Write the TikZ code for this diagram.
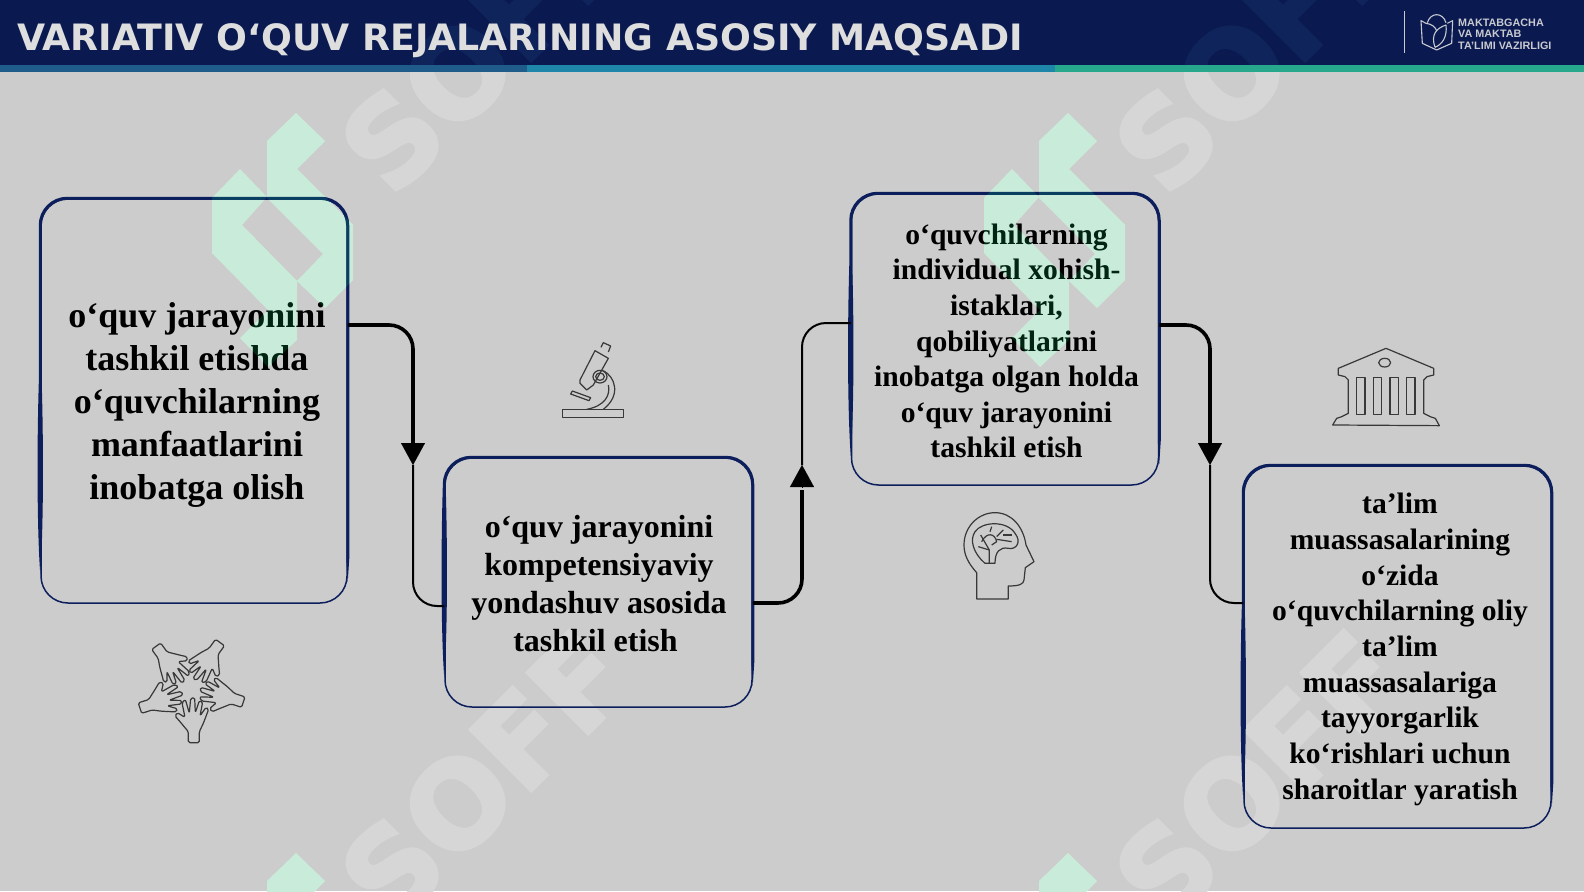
\documentclass[tikz,border=0pt]{standalone}
\usepackage{fontspec}
\setmainfont{Liberation Serif}
\newfontfamily\headfont{DejaVu Sans}
\newfontfamily\markfont[FakeBold=3]{DejaVu Sans Bold}
\newfontfamily\minfont{Liberation Sans}
\usetikzlibrary{arrows.meta, calc}

\definecolor{pagegrey}{HTML}{CCCCCC}
\definecolor{markgrey}{HTML}{D6D6D6}
\definecolor{marknavy}{HTML}{10245C}
\definecolor{headnavy}{HTML}{0A1A50}
\definecolor{stripa}{HTML}{1F5C8C}
\definecolor{stripb}{HTML}{1E86A8}
\definecolor{stripc}{HTML}{27A88C}
\definecolor{boxnavy}{HTML}{0C1E5C}
\definecolor{iconline}{HTML}{383838}
\definecolor{headtext}{HTML}{DEDEDE}
\definecolor{mintbase}{HTML}{ECE9E9}
\definecolor{minttint}{HTML}{00FF80}

\tikzset{
  stepbox/.style = {draw=boxnavy, line width=1.5pt, rounded corners=27pt, inner sep=0pt},
  steptext/.style = {align=center, font=\bfseries, text=black, inner sep=0pt},
  flowthick/.style = {line width=3.6pt, rounded corners=24pt},
  flowthin/.style = {line width=2pt, rounded corners=24pt},
  flowtip/.style = {-{Triangle[width=24pt,length=22pt]}},
  iconpath/.style = {draw=iconline, line width=1.2pt, line join=round},
  minpath/.style = {draw=headtext!90!headnavy, line width=1.1pt, line join=round},
}

% calligraphic part of a box outline
\newcommand{\boxedge}[1]{
  \draw[boxnavy, line width=3pt, rounded corners=27pt]
    ($(#1.south west)+(0,-220)$) |- (#1.north east) -- ($(#1.south east)+(0,-45)$);
  \fill[boxnavy] ($(#1.south west)+(-1.5,-220)$) -- ($(#1.south west)+(1.5,-220)$)
    .. controls ($(#1.south west)+(3.5,-150)$) and ($(#1.south west)+(3,-70)$) .. ($(#1.south west)+(0,-30)$)
    .. controls ($(#1.south west)+(-3,-70)$) and ($(#1.south west)+(-3.5,-150)$) .. cycle;
  \fill[boxnavy] ($(#1.south east)+(-1.5,-45)$) -- ($(#1.south east)+(1.5,-45)$) -- ($(#1.south east)+(0,-22)$) -- cycle;
}
\newcommand{\minshape}{
  (296,113) -- (325,141) -- (297,169) -- (353,225) -- (353,280) -- (325,308) -- (297,281)
  -- (323,254) -- (267,198) -- (267,141) -- cycle
  (240,169) -- (267,197) -- (242,225) -- (297,281) -- (297,340) -- (268,367) -- (240,338)
  -- (268,310) -- (212,253) -- (212,198) -- cycle
}
\newcommand{\softmark}[1]{
  \foreach \dx/\dy in {0/0, 774/0, 0/730, 774/730} {
    \node[rotate=45, text=#1, font=\markfont\fontsize{118}{118}\selectfont, inner sep=0pt, anchor=west]
      at ($(362,169)+(\dx,\dy)$) {SOFF};
  }
}

\begin{document}
\begin{tikzpicture}[x=1pt, y=-1pt]
\useasboundingbox (0,0) rectangle (1584,891);
\begin{scope}
\clip (0,0) rectangle (1584,891);
\fill[pagegrey] (0,0) rectangle (1584,891);

% watermark
\softmark{markgrey}
\foreach \dx/\dy in {0/0, 772/0, 0/740, 772/740} {
  \fill[mintbase, shift={(\dx,\dy)}] \minshape;
}

% header
\fill[headnavy] (0,0) rectangle (1584,66);
\fill[stripa] (0,65) rectangle (527,72);
\fill[stripb] (527,65) rectangle (1055,72);
\fill[stripc] (1055,65) rectangle (1584,72);
\begin{scope}
\clip (0,0) rectangle (1584,65);
\softmark{marknavy}
\end{scope}

\node[anchor=west, inner sep=0pt, text=headtext, font=\headfont\bfseries\fontsize{36.3}{36}\selectfont] (title) at (17,41) {VARIATIV O‘QUV REJALARINING ASOSIY MAQSADI};

% ministry mark
\coordinate (r1) at (1404,11);
\coordinate (r2) at (1404,53);
\draw[headtext!90!headnavy, line width=1pt] (r1) -- (r2);
\begin{scope}[shift={(1340,0)}, x=.3333pt, y=-.3333pt]
\draw[minpath] (258,70) -- (243,62) -- (247,130) -- (290,150) -- (335,130) -- (338,62) -- (322,70);
\draw[minpath] (262,68) .. controls (272,36) and (308,36) .. (318,68);
\draw[minpath] (258,70) .. controls (275,72) and (285,80) .. (290,92);
\draw[minpath] (285,142) .. controls (272,105) and (288,85) .. (318,75) .. controls (322,110) and (308,132) .. (285,142);
\end{scope}
\node[anchor=north west, inner sep=0pt, align=left, text=headtext!90!headnavy, font=\minfont\bfseries\fontsize{10.8}{11.6}\selectfont] (mintext) at (1458,18.5) {MAKTABGACHA\\VA MAKTAB\\TA’LIMI VAZIRLIGI};

% boxes
\node[stepbox, minimum width=306pt, minimum height=404pt] (b1) at (194,401) {};
\node[stepbox, minimum width=307pt, minimum height=249pt] (b2) at (598.5,582.5) {};
\node[stepbox, minimum width=307pt, minimum height=291pt] (b3) at (1005,339.5) {};
\node[stepbox, minimum width=307pt, minimum height=362pt] (b4) at (1397.5,647) {};
\foreach \b in {b1,b2,b3,b4} {
  \boxedge{\b}
}

\node[steptext, font=\bfseries\fontsize{36}{43}\selectfont] (t1) at (197,405) {o‘quv jarayonini\\tashkil etishda\\o‘quvchilarning\\manfaatlarini\\inobatga olish};
\node[steptext, font=\bfseries\fontsize{32}{38}\selectfont] (t2) at (599,584) {o‘quv jarayonini\\kompetensiyaviy\\yondashuv asosida\\tashkil etish\hspace*{7pt}};
\node[steptext, font=\bfseries\fontsize{29.6}{35.6}\selectfont] (t3) at (1006.5,341) {o‘quvchilarning\\individual xohish-\\istaklari,\\qobiliyatlarini\\inobatga olgan holda\\o‘quv jarayonini\\tashkil etish};
\node[steptext, font=\bfseries\fontsize{29.6}{35.7}\selectfont] (t4) at (1400,649.5) {ta’lim\\muassasalarining\\o‘zida\\o‘quvchilarning oliy\\ta’lim\\muassasalariga\\tayyorgarlik\\ko‘rishlari uchun\\sharoitlar yaratish};

% connectors
\coordinate (m1) at (413,465);
\coordinate (m2) at (802,465);
\coordinate (m3) at (1210,465);
\draw[flowthick] (b1.east |- 0,325) -| (413,445);
\draw[flowtip, line width=.1pt] (413,443) -- (m1);
\draw[flowthin] (m1) |- (b2.west |- 0,606);
\draw[flowthick] (b2.east |- 0,603) -| (802,490);
\draw[flowtip, line width=.1pt] (802,487) -- (m2);
\draw[flowthin] (m2) |- (b3.west |- 0,323);
\draw[flowthick] (b3.east |- 0,325) -| (1210,445);
\draw[flowtip, line width=.1pt] (1210,443) -- (m3);
\draw[flowthin] (m3) |- (b4.west |- 0,603);

% hands
\begin{scope}[shift={(120,620)}, x=.3333pt, y=-.3333pt]
\foreach \a in {0,72,...,288} {
  \draw[iconpath, rounded corners=1.5pt, rotate around={\a:(212,205)}]
    (205,368) -- (205,335) -- (180,305) -- (165,288) -- (172,278) -- (195,292) -- (186,248)
    -- (196,238) -- (208,280) -- (212,235) -- (224,233) -- (226,278) -- (238,242) -- (248,246)
    -- (240,288) -- (258,262) -- (266,268) -- (250,310) -- (238,335) -- (238,368) -- cycle;
}
\end{scope}

% microscope
\begin{scope}[shift={(540,330)}, x=.3333pt, y=-.3333pt]
\draw[iconpath] (68,238) rectangle (250,262);
\draw[iconpath] (190,122) .. controls (225,140) and (245,195) .. (190,238);
\draw[iconpath] (205,165) .. controls (212,195) and (195,228) .. (140,238);
\draw[iconpath] (165,62) -- (205,85) -- (160,165) -- (140,180) -- (120,160) -- (120,150) -- cycle;
\draw[iconpath] (183,52) -- (190,38) -- (212,48) -- (205,66);
\draw[iconpath] (180,140) ellipse [x radius=21, y radius=19];
\draw[iconpath] (180,140) ellipse [x radius=13, y radius=11];
\draw[iconpath] (97,183) -- (152,203) -- (147,212) -- (92,192) -- cycle;
\end{scope}

% head
\begin{scope}[shift={(940,500)}, x=.3333pt, y=-.3333pt]
\draw[iconpath] (110,297) -- (110,218) .. controls (85,190) and (72,165) .. (72,135)
  .. controls (72,80) and (115,38) .. (165,38) .. controls (215,38) and (250,80) .. (258,135)
  -- (282,185) -- (256,203) -- (252,240) .. controls (250,252) and (240,258) .. (205,258)
  -- (205,297) -- cycle;
\draw[iconpath] (135,190) .. controls (100,160) and (88,120) .. (105,95)
  .. controls (125,65) and (200,60) .. (225,100) .. controls (245,125) and (230,150) .. (205,145)
  .. controls (180,140) and (165,155) .. (165,190) -- cycle;
\draw[iconpath] (148,190) -- (148,150) -- (122,105);
\draw[iconpath] (148,150) -- (115,140);
\draw[iconpath] (125,125) .. controls (140,95) and (165,100) .. (170,125) -- (155,135);
\draw[iconpath] (170,110) -- (190,90);
\draw[iconpath] (170,118) -- (215,125);
\draw[iconpath] (190,105) -- (215,105);
\draw[iconpath] (150,95) -- (155,80);
\end{scope}

% bank
\begin{scope}[shift={(1310,335)}, x=.3333pt, y=-.3333pt]
\draw[iconpath] (228,40) -- (85,100) -- (85,120) -- (105,125) -- (115,135) -- (115,235) -- (95,245)
  -- (80,250) -- (68,270) -- (388,272) -- (376,250) -- (361,245) -- (341,235) -- (341,135)
  -- (351,125) -- (371,120) -- (371,100) -- cycle;
\draw[iconpath] (224,83) ellipse [x radius=18, y radius=13];
\foreach \cx in {140,190,240,290} {
  \draw[iconpath] (\cx,128) rectangle (\cx+25,238);
}
\end{scope}

% tint over the dark strokes
\foreach \dx/\dy in {0/0, 772/0, 0/740, 772/740} {
  \fill[minttint, fill opacity=.15, shift={(\dx,\dy)}] \minshape;
}
\end{scope}
\end{tikzpicture}
\end{document}
